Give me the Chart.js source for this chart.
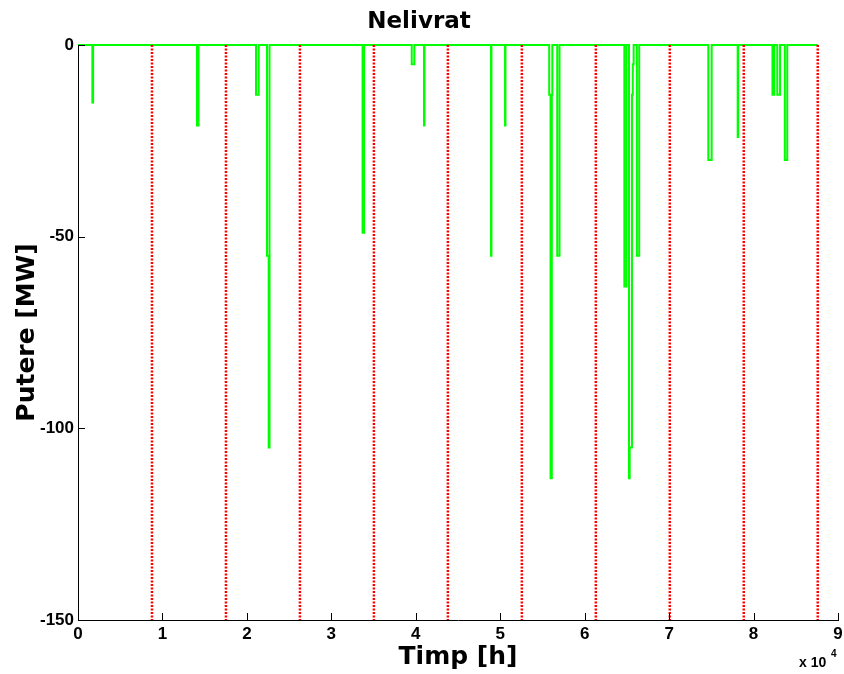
<!DOCTYPE html>
<html>
<head>
<meta charset="utf-8">
<script src="https://cdn.jsdelivr.net/npm/chart.js@4.4.1/dist/chart.umd.min.js"></script>
<style>
  html, body { margin: 0; padding: 0; background: #fff; }
  #wrap { width: 844px; height: 674px; }
</style>
</head>
<body>
<div id="wrap"><canvas id="myChart" width="844" height="674"></canvas></div>
<script>
// step breakpoints: power holds from each hour until the next one
const hours = [0, 1700, 1790, 14090, 14270, 21080, 21400, 22380, 22580, 22680,
    33700, 33880, 39520, 39830, 40970, 41030, 48910, 48960, 50570, 50620,
    55800, 55960, 56110, 56170, 56750, 57020, 64700, 64950, 65250, 65330,
    65600, 65700, 65800, 66180, 66460, 74640, 75040, 78120, 78180, 82240,
    82450, 82810, 83130, 83700, 83990, 87600];
const power = [0, -15, 0, -21, 0, -13, 0, -55, -105, 0,
    -49, 0, -5, 0, -21, 0, -55, 0, -21, 0,
    -13, -113, -13, 0, -55, 0, -63, 0, -113, -105,
    -13, -5, 0, -55, 0, -30, 0, -24, 0, -13,
    0, -13, 0, -30, 0, 0];
// end of each year (hours)
const yearEnds = [8760, 17520, 26280, 35040, 43800, 52560, 61320, 70080, 78840, 87600];
const xTicks = [0, 1, 2, 3, 4, 5, 6, 7, 8, 9];

const tickFont = { family: "'Liberation Sans', Arial, sans-serif", size: 17, weight: 'bold' };
const titleFont = { family: "'DejaVu Sans', sans-serif", size: 25, weight: 'bold' };

const innerTicks = {
    id: 'innerTicks',
    afterDatasetsDraw(chart) {
        const { ctx, chartArea, scales } = chart;
        ctx.save();
        ctx.strokeStyle = '#000';
        ctx.lineWidth = 1;
        ctx.beginPath();
        scales.x.ticks.forEach(t => {
            const px = Math.round(scales.x.getPixelForValue(t.value)) + 0.5;
            ctx.moveTo(px, chartArea.bottom);
            ctx.lineTo(px, chartArea.bottom - 7);
        });
        scales.y.ticks.forEach(t => {
            const py = Math.round(scales.y.getPixelForValue(t.value)) + 0.5;
            ctx.moveTo(chartArea.left, py);
            ctx.lineTo(chartArea.left + 7, py);
        });
        ctx.stroke();
        // exponent label under the x axis
        ctx.fillStyle = '#000';
        ctx.textBaseline = 'alphabetic';
        ctx.font = "bold 14px 'Liberation Sans', Arial, sans-serif";
        ctx.fillText('x 10', 799, 667);
        ctx.font = "bold 10px 'Liberation Sans', Arial, sans-serif";
        ctx.fillText('4', 831, 657);
        ctx.restore();
    }
};

const datasets = yearEnds.map(yr => ({
    data: [{ x: yr, y: 0 }, { x: yr, y: -150 }],
    borderColor: '#ff0000',
    borderWidth: 2.5,
    borderDash: [2, 1.5],
    pointRadius: 0,
    order: 0
}));
datasets.push({
    label: 'Nelivrat',
    data: hours.map((h, i) => ({ x: h, y: power[i] })),
    borderColor: '#00ff00',
    borderWidth: 2,
    stepped: true,
    pointRadius: 0,
    fill: false,
    clip: 4,
    order: 1
});

const ctx = document.getElementById('myChart').getContext('2d');
new Chart(ctx, {
    type: 'line',
    data: { datasets: datasets },
    options: {
        responsive: false,
        animation: false,
        layout: { padding: { left: 0, right: 6, top: 0, bottom: 0 } },
        scales: {
            x: {
                type: 'linear',
                min: 0,
                max: 90000,
                grid: { display: false, drawTicks: false, tickLength: 0 },
                border: { display: true, color: '#000', width: 1 },
                ticks: {
                    stepSize: 10000,
                    padding: 4,
                    color: '#000',
                    font: tickFont,
                    maxRotation: 0,
                    callback: v => xTicks[Math.round(v / 10000)]
                },
                title: { display: true, text: 'Timp [h]', color: '#000', font: titleFont, padding: { top: 0, bottom: 2 } },
                afterFit(scale) {
                    scale.height = 54;
                    scale.paddingLeft = 0;
                    scale.paddingRight = 0;
                }
            },
            y: {
                min: -150,
                max: 0,
                grid: { display: false, drawTicks: false, tickLength: 0 },
                border: { display: true, color: '#000', width: 1 },
                ticks: { stepSize: 50, padding: 4, color: '#000', font: tickFont },
                title: { display: true, text: 'Putere [MW]', color: '#000', font: titleFont, padding: { top: 12, bottom: 0 } },
                afterFit(scale) { scale.width = 78; }
            }
        },
        plugins: {
            legend: { display: false },
            tooltip: { enabled: false },
            title: {
                display: true,
                text: 'Nelivrat',
                color: '#000',
                font: { family: "'DejaVu Sans', sans-serif", size: 23, weight: 'bold', lineHeight: 1.2 },
                padding: { top: 8, bottom: 9.4 }
            }
        }
    },
    plugins: [innerTicks]
});
</script>
</body>
</html>
